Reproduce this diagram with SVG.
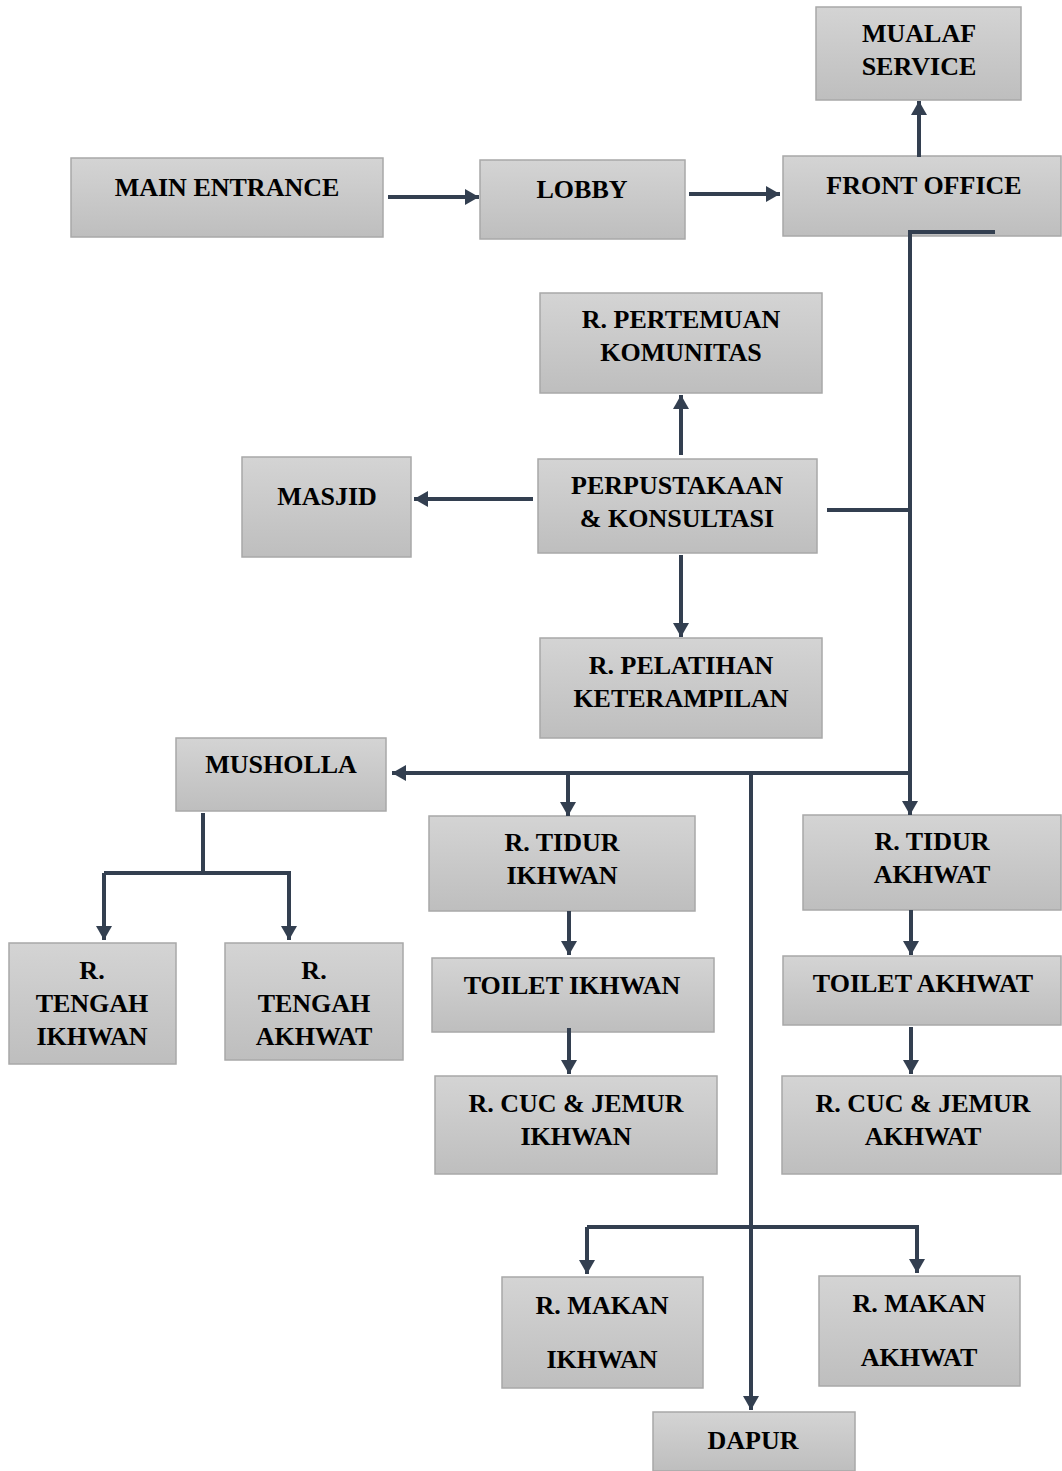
<svg xmlns="http://www.w3.org/2000/svg" width="1062" height="1471" viewBox="0 0 1062 1471">
<style>
.box{fill:url(#g);stroke:#a8a8a8;stroke-width:1.5}
.t{font-family:"Liberation Serif","Times New Roman",serif;font-weight:bold;font-size:26px;fill:#000;text-anchor:middle}
.c{fill:none;stroke:#333f50;stroke-width:4}
.a{marker-end:url(#ah)}
</style>
<defs>
<linearGradient id="g" x1="0" y1="0" x2="0" y2="1">
<stop offset="0" stop-color="#d4d4d4"/>
<stop offset="1" stop-color="#bebebe"/>
</linearGradient>
<marker id="ah" viewBox="0 0 14 16" refX="14" refY="8" markerWidth="14" markerHeight="16" markerUnits="userSpaceOnUse" orient="auto">
<path d="M0,0 L14,8 L0,16 z" fill="#333f50"/>
</marker>
</defs>
<rect width="1062" height="1471" fill="#fff"/>
<g id="mualaf"><rect class="box" x="816" y="7" width="205" height="93"/><text class="t" x="919" y="42">MUALAF</text><text class="t" x="919" y="75">SERVICE</text></g>
<g id="main-entrance"><rect class="box" x="71" y="158" width="312" height="79"/><text class="t" x="227" y="196">MAIN ENTRANCE</text></g>
<g id="lobby"><rect class="box" x="480" y="160" width="205" height="79"/><text class="t" x="582" y="198">LOBBY</text></g>
<g id="front-office"><rect class="box" x="783" y="156" width="278" height="80"/><text class="t" x="924" y="194">FRONT OFFICE</text></g>
<g id="pertemuan"><rect class="box" x="540" y="293" width="282" height="100"/><text class="t" x="681" y="328">R. PERTEMUAN</text><text class="t" x="681" y="361">KOMUNITAS</text></g>
<g id="masjid"><rect class="box" x="242" y="457" width="169" height="100"/><text class="t" x="327" y="505">MASJID</text></g>
<g id="perpustakaan"><rect class="box" x="538" y="459" width="279" height="94"/><text class="t" x="677" y="494">PERPUSTAKAAN</text><text class="t" x="677" y="527">&amp; KONSULTASI</text></g>
<g id="pelatihan"><rect class="box" x="540" y="638" width="282" height="100"/><text class="t" x="681" y="674">R. PELATIHAN</text><text class="t" x="681" y="707">KETERAMPILAN</text></g>
<g id="musholla"><rect class="box" x="176" y="738" width="210" height="73"/><text class="t" x="281" y="773">MUSHOLLA</text></g>
<g id="tidur-ikhwan"><rect class="box" x="429" y="816" width="266" height="95"/><text class="t" x="562" y="851">R. TIDUR</text><text class="t" x="562" y="884">IKHWAN</text></g>
<g id="tidur-akhwat"><rect class="box" x="803" y="815" width="258" height="95"/><text class="t" x="932" y="850">R. TIDUR</text><text class="t" x="932" y="883">AKHWAT</text></g>
<g id="tengah-ikhwan"><rect class="box" x="9" y="943" width="167" height="121"/><text class="t" x="92" y="979">R.</text><text class="t" x="92" y="1012">TENGAH</text><text class="t" x="92" y="1045">IKHWAN</text></g>
<g id="tengah-akhwat"><rect class="box" x="225" y="943" width="178" height="117"/><text class="t" x="314" y="979">R.</text><text class="t" x="314" y="1012">TENGAH</text><text class="t" x="314" y="1045">AKHWAT</text></g>
<g id="toilet-ikhwan"><rect class="box" x="432" y="958" width="282" height="74"/><text class="t" x="572" y="994">TOILET IKHWAN</text></g>
<g id="toilet-akhwat"><rect class="box" x="783" y="956" width="278" height="69"/><text class="t" x="923" y="992">TOILET AKHWAT</text></g>
<g id="cuc-ikhwan"><rect class="box" x="435" y="1076" width="282" height="98"/><text class="t" x="576" y="1112">R. CUC &amp; JEMUR</text><text class="t" x="576" y="1145">IKHWAN</text></g>
<g id="cuc-akhwat"><rect class="box" x="782" y="1076" width="279" height="98"/><text class="t" x="923" y="1112">R. CUC &amp; JEMUR</text><text class="t" x="923" y="1145">AKHWAT</text></g>
<g id="makan-ikhwan"><rect class="box" x="502" y="1277" width="201" height="111"/><text class="t" x="602" y="1314">R. MAKAN</text><text class="t" x="602" y="1368">IKHWAN</text></g>
<g id="makan-akhwat"><rect class="box" x="819" y="1276" width="201" height="110"/><text class="t" x="919" y="1312">R. MAKAN</text><text class="t" x="919" y="1366">AKHWAT</text></g>
<g id="dapur"><rect class="box" x="653" y="1412" width="202" height="59"/><text class="t" x="753" y="1449">DAPUR</text></g>
<g id="connectors">
<path class="c a" d="M388,197 H479"/>
<path class="c a" d="M689,194 H780"/>
<path class="c a" d="M919,157 V101"/>
<path class="c" d="M995,232 H910 V775"/>
<path class="c" d="M827,510 H910"/>
<path class="c a" d="M681,455 V395"/>
<path class="c a" d="M533,499 H414"/>
<path class="c a" d="M681,555 V637"/>
<path class="c a" d="M910,773 H392"/>
<path class="c a" d="M568,773 V816"/>
<path class="c a" d="M910,773 V815"/>
<path class="c a" d="M751,773 V1410"/>
<path class="c a" d="M587,1227 H917 V1273"/>
<path class="c a" d="M587,1227 V1274"/>
<path class="c" d="M203,813 V873"/>
<path class="c a" d="M104,873 H289 V940"/>
<path class="c a" d="M104,873 V940"/>
<path class="c a" d="M569,911 V955"/>
<path class="c a" d="M569,1028 V1074"/>
<path class="c a" d="M911,910 V955"/>
<path class="c a" d="M911,1027 V1074"/>
</g>
</svg>
